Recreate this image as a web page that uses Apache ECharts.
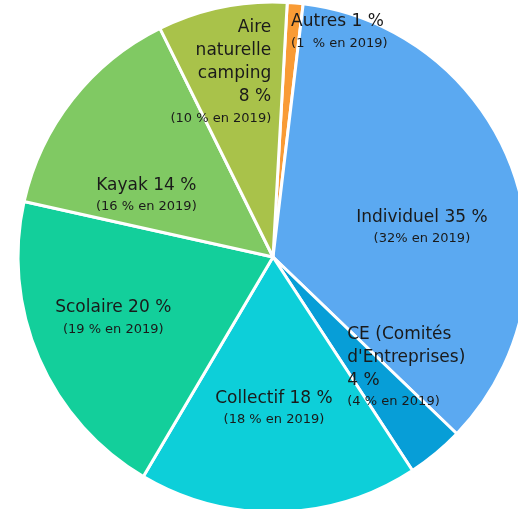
<!DOCTYPE html>
<html>
<head>
<meta charset="utf-8">
<script src="https://cdn.jsdelivr.net/npm/echarts@6/dist/echarts.min.js"></script>
<style>
html, body { margin: 0; padding: 0; background: #fff; }
#chart { width: 518px; height: 509px; }
</style>
</head>
<body>
<div id="chart"></div>
<script>
var categories = ['Autres', 'Individuel', "CE (Comités\nd'Entreprises)", 'Collectif', 'Scolaire', 'Kayak', 'Aire\nnaturelle\ncamping'];
// slice shares as drawn (labels show them rounded)
var values2021 = [1.0, 35.3, 3.6, 17.7, 20.0, 14.2, 8.2];
var labels2019 = ['(1  % en 2019)', '(32% en 2019)', '(4 % en 2019)', '(18 % en 2019)', '(19 % en 2019)', '(16 % en 2019)', '(10 % en 2019)'];

var colors = ['#F99B35', '#5BA9F1', '#079ED7', '#0DCFD9', '#13CF9B', '#80C963', '#A9C24A'];

// label tweaks: shift from the default inside spot, and line alignment
var labelShift = [[55, -95], [26, 14], [50, 10], [-2, 21], [-40, 9], [-24, 19], [-26, -57]];
var labelAlign = ['l', 'c', 'l', 'c', 'c', 'c', 'r'];

var chart = echarts.init(document.getElementById('chart'));

var pieData = categories.map(function (name, i) {
    return { name: name, value: values2021[i], itemStyle: { color: colors[i] } };
});

function fmt(p) {
    var i = p.dataIndex;
    var a = labelAlign[i];
    var pct = Math.round(p.value) + ' %';
    var main = p.name.indexOf('\n') >= 0 ? p.name + '\n' + pct : p.name + ' ' + pct;
    var lines = main.split('\n').map(function (l) { return '{m' + a + '|' + l + '}'; });
    lines.push('{s' + a + '|' + labels2019[i] + '}');
    return lines.join('\n');
}

var rich = {};
['l', 'c', 'r'].forEach(function (a) {
    var al = a === 'l' ? 'left' : (a === 'r' ? 'right' : 'center');
    rich['m' + a] = { fontSize: 17, lineHeight: 23, align: al };
    rich['s' + a] = { fontSize: 13, lineHeight: 20, align: al };
});

chart.setOption({
    animation: false,
    series: [{
        type: 'pie',
        center: [273, 257],
        radius: 255,
        startAngle: 86.8,
        clockwise: true,
        data: pieData,
        itemStyle: { borderColor: '#fff', borderWidth: 3 },
        label: {
            position: 'inside',
            formatter: fmt,
            fontFamily: 'DejaVu Sans',
            color: '#1a1a1a',
            rich: rich
        },
        labelLine: { show: false },
        labelLayout: function (params) {
            var s = labelShift[params.dataIndex];
            return { dx: s[0], dy: s[1] };
        },
        emphasis: { disabled: true }
    }]
});
</script>
</body>
</html>
